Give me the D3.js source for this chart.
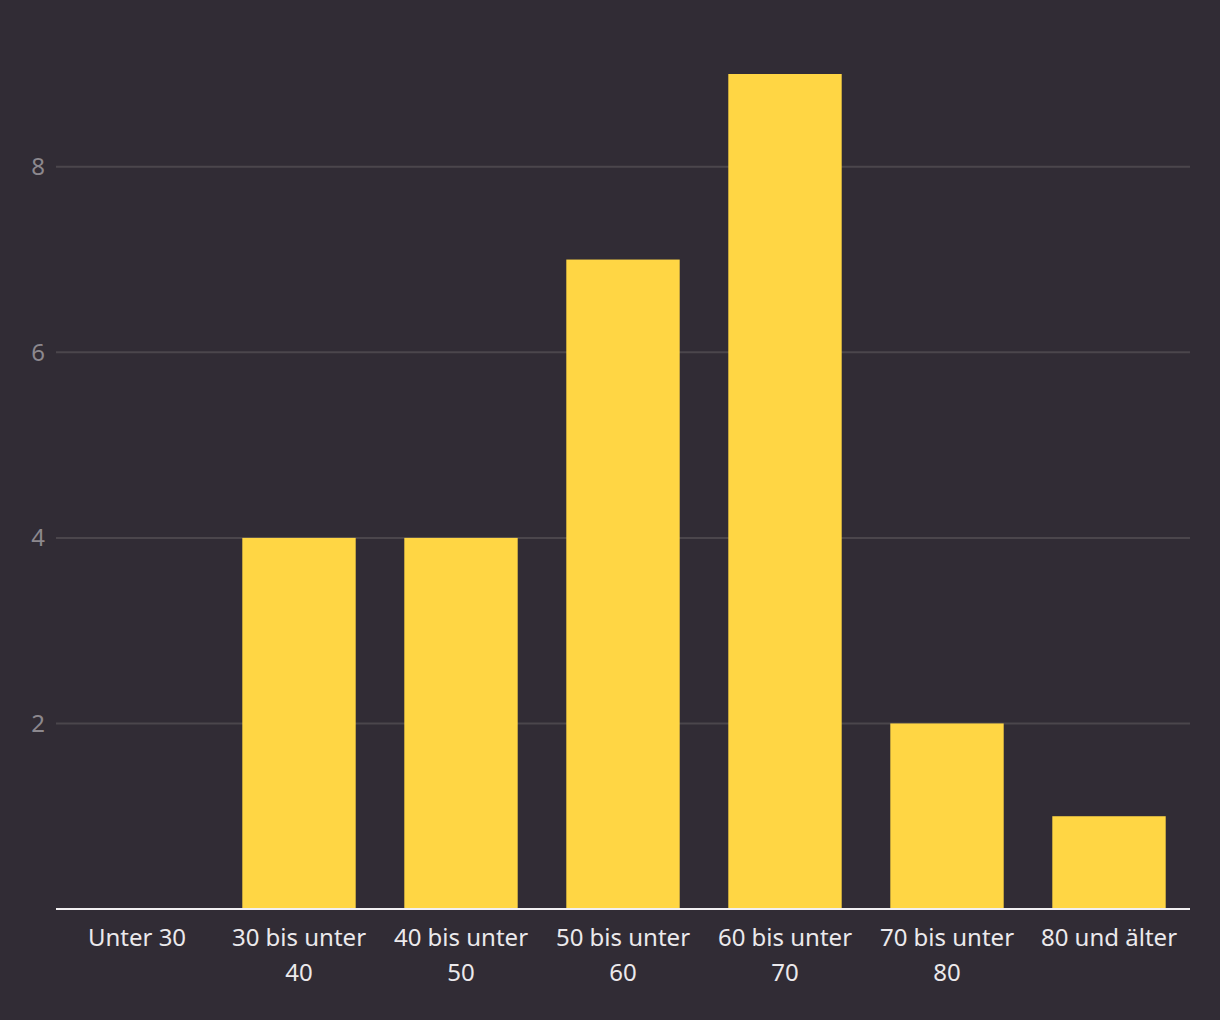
<html>
<head>
	<meta charset="utf-8">
	<script src="https://cdn.jsdelivr.net/npm/d3@7"></script>
	<style>
		body { margin: 0; background: #312c35; }
		text { font-family: "Noto Sans", sans-serif; }
	</style>
</head>
<body>
	<script type="text/javascript">
		var width = 1220
		var height = 1020

		var categories = ["Unter 30", "30 bis unter 40", "40 bis unter 50", "50 bis unter 60", "60 bis unter 70", "70 bis unter 80", "80 und älter"]
		var labelLines = [["Unter 30"], ["30 bis unter", "40"], ["40 bis unter", "50"], ["50 bis unter", "60"], ["60 bis unter", "70"], ["70 bis unter", "80"], ["80 und älter"]]
		var values = [0, 4, 4, 7, 9, 2, 1]
		var yTicks = [2, 4, 6, 8]

		var marginLeft = 56, marginRight = 1190, plotTop = 74, plotBottom = 909

		var svg = d3.select("body").append("svg")
			.attr("width", width)
			.attr("height", height)

		svg.append("rect").attr("width", width).attr("height", height).attr("fill", "#312c35")

		var x = d3.scaleBand().domain(categories).range([marginLeft, marginRight]).paddingInner(0.3).paddingOuter(0.15)
		var y = d3.scaleLinear().domain([0, 9]).range([plotBottom, plotTop])

		// grid
		svg.selectAll("line.grid")
			.data(yTicks)
			.enter()
			.append("line")
			.attr("class", "grid")
			.attr("x1", marginLeft)
			.attr("x2", marginRight)
			.attr("y1", d => y(d))
			.attr("y2", d => y(d))
			.attr("stroke", "#4b464c")
			.attr("stroke-width", 2)

		svg.selectAll("text.ytick")
			.data(yTicks)
			.enter()
			.append("text")
			.attr("class", "ytick")
			.attr("x", 45)
			.attr("y", d => y(d))
			.attr("dy", "0.35em")
			.attr("text-anchor", "end")
			.attr("fill", "#8c888e")
			.attr("font-size", 24)
			.text(d => d)

		svg.selectAll("rect.bar")
			.data(values)
			.enter()
			.append("rect")
			.attr("class", "bar")
			.attr("x", (d, i) => x(categories[i]))
			.attr("width", x.bandwidth())
			.attr("y", d => y(d))
			.attr("height", d => y(0) - y(d))
			.attr("fill", "#ffd644")

		svg.append("line")
			.attr("x1", marginLeft).attr("x2", marginRight)
			.attr("y1", plotBottom).attr("y2", plotBottom)
			.attr("stroke", "#f2f0f2")
			.attr("stroke-width", 2)

		var labels = svg.selectAll("text.xlabel")
			.data(categories)
			.enter()
			.append("text")
			.attr("class", "xlabel")
			.attr("text-anchor", "middle")
			.attr("fill", "#ebe9ec")
			.attr("font-size", 24)

		labels.each(function(d, i) {
			var t = d3.select(this)
			labelLines[i].forEach(function(line, j) {
				t.append("tspan")
					.attr("x", x(d) + x.bandwidth() / 2)
					.attr("y", 946 + j * 35)
					.text(line)
			})
		})
	</script>
</body>
</html>
